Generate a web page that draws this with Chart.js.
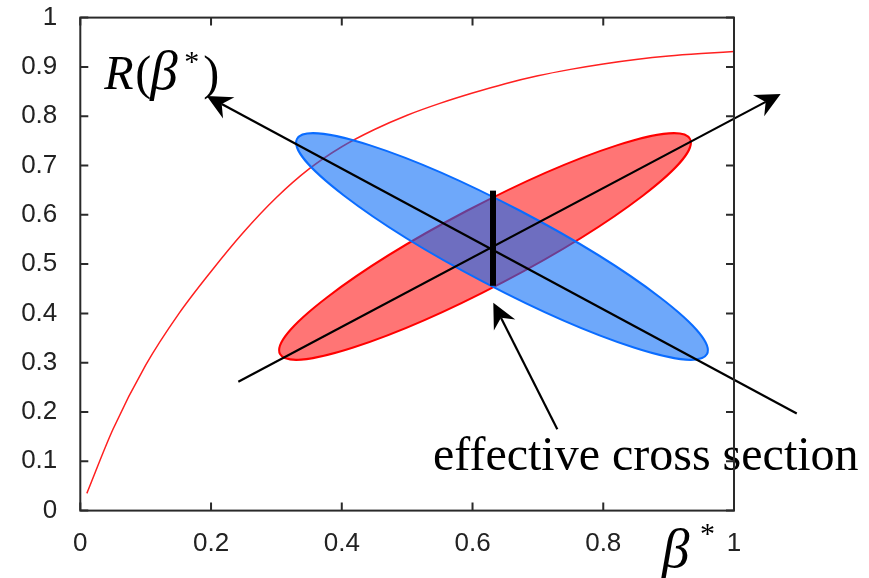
<!DOCTYPE html>
<html><head><meta charset="utf-8">
<script src="https://cdn.jsdelivr.net/npm/chart.js@4.4.0/dist/chart.umd.min.js"></script>
<style>html,body{margin:0;padding:0;background:#fff;}#wrap{width:869px;height:578px;}</style>
</head><body><div id="wrap"><canvas id="c" width="869" height="578"></canvas></div>
<script>
// ---- data ----
const betaValues = [0.01,0.05,0.1,0.15,0.2,0.25,0.3,0.35,0.4,0.45,0.5,0.55,0.6,0.65,0.7,0.75,0.8,0.85,0.9,0.95,1.0];
const rValues    = [0.035,0.165,0.295,0.398,0.485,0.565,0.635,0.693,0.738,0.773,0.802,0.826,0.847,0.866,0.882,0.895,0.906,0.915,0.922,0.927,0.931];
const xTickValues = [0,0.2,0.4,0.6,0.8,1];
const xTickLabels = ['0','0.2','0.4','0.6','0.8','1'];
const yTickValues = [0,0.1,0.2,0.3,0.4,0.5,0.6,0.7,0.8,0.9,1];
const yTickLabels = ['0','0.1','0.2','0.3','0.4','0.5','0.6','0.7','0.8','0.9','1'];

// annotation geometry in data coordinates
const blueEllipseAxis = [[0.3315,0.754],[0.9587,0.3177]];
const redEllipseAxis  = [[0.3055,0.3177],[0.9327,0.754]];
const arrowA = [[1.096,0.197],[0.1934,0.841]];
const arrowB = [[0.2417,0.2615],[1.0714,0.8452]];
const arrowC = [[0.7297,0.165],[0.6318,0.4218]];
const crossBar = [[0.6313,0.649],[0.6313,0.456]];
const labelRAnchor = [0.0368,0.8554];
const labelECSAnchor = [0.5395,0.0824];
const labelBetaAnchor = [0.8837,-0.1144];

const annot = {
  id:'annot',
  afterDatasetsDraw(chart){
    const {ctx, scales:{x,y}} = chart;
    const px=v=>x.getPixelForValue(v), py=v=>y.getPixelForValue(v);
    ctx.save();
    function ell(axis, b, fill, stroke){
      const x1=px(axis[0][0]), y1=py(axis[0][1]), x2=px(axis[1][0]), y2=py(axis[1][1]);
      const cx=(x1+x2)/2, cy=(y1+y2)/2, a=Math.hypot(x2-x1,y2-y1)/2, ang=Math.atan2(y2-y1,x2-x1);
      ctx.beginPath(); ctx.ellipse(cx,cy,a,b,ang,0,2*Math.PI);
      ctx.fillStyle=fill; ctx.fill();
      ctx.lineWidth=2; ctx.strokeStyle=stroke; ctx.stroke();
    }
    ell(redEllipseAxis, 40, 'rgba(255,0,0,0.54)', '#ff0000');
    ell(blueEllipseAxis, 40, 'rgba(5,105,246,0.58)', '#0a6cff');
    function arrow(seg, lw){
      const fx=px(seg[0][0]), fy=py(seg[0][1]), tx=px(seg[1][0]), ty=py(seg[1][1]);
      const ang=Math.atan2(ty-fy,tx-fx), ux=Math.cos(ang), uy=Math.sin(ang);
      const L=25, W=12, N=17;
      ctx.beginPath(); ctx.moveTo(fx,fy); ctx.lineTo(tx-ux*N,ty-uy*N);
      ctx.lineWidth=lw; ctx.strokeStyle='#000'; ctx.stroke();
      ctx.beginPath(); ctx.moveTo(tx,ty);
      ctx.lineTo(tx-ux*L-uy*W, ty-uy*L+ux*W);
      ctx.lineTo(tx-ux*N, ty-uy*N);
      ctx.lineTo(tx-ux*L+uy*W, ty-uy*L-ux*W);
      ctx.closePath(); ctx.fillStyle='#000'; ctx.fill();
    }
    arrow(arrowA,2.2); arrow(arrowB,2.2); arrow(arrowC,2.2);
    ctx.beginPath(); ctx.moveTo(px(crossBar[0][0]),py(crossBar[0][1])); ctx.lineTo(px(crossBar[1][0]),py(crossBar[1][1]));
    ctx.lineWidth=6; ctx.strokeStyle='#000'; ctx.stroke();

    // texts
    ctx.fillStyle='#000'; ctx.textBaseline='alphabetic'; ctx.textAlign='left';
    const rx=px(labelRAnchor[0]), ry=py(labelRAnchor[1]);
    ctx.font='italic 48px "Liberation Serif"'; ctx.fillText('R', rx, ry);
    ctx.font='48px "Liberation Serif"'; ctx.fillText('(', rx+31, ry);
    ctx.font='italic 55px "Liberation Serif"'; ctx.fillText('\u03B2', rx+46, ry);
    ctx.font='30px "Liberation Serif"'; ctx.fillText('*', rx+80, ry-18);
    ctx.font='48px "Liberation Serif"'; ctx.fillText(')', rx+99, ry);

    ctx.font='48px "Liberation Serif"';
    ctx.fillText('effective cross section', px(labelECSAnchor[0]), py(labelECSAnchor[1]));

    const bx=px(labelBetaAnchor[0]), by=py(labelBetaAnchor[1]);
    ctx.font='italic 55px "Liberation Serif"'; ctx.fillText('\u03B2', bx+4, by);
    ctx.font='30px "Liberation Serif"'; ctx.fillText('*', bx+42, by-24);
    ctx.restore();
  },
  afterDraw(chart){
    const {ctx, chartArea:a, scales:{x,y}} = chart;
    ctx.save();
    ctx.strokeStyle='#2a2a2a'; ctx.lineWidth=2;
    ctx.strokeRect(a.left,a.top,a.right-a.left,a.bottom-a.top);
    const tl=8;
    ctx.beginPath();
    xTickValues.forEach(v=>{const p=x.getPixelForValue(v);
      ctx.moveTo(p,a.bottom); ctx.lineTo(p,a.bottom-tl);
      ctx.moveTo(p,a.top); ctx.lineTo(p,a.top+tl);});
    yTickValues.forEach(v=>{const p=y.getPixelForValue(v);
      ctx.moveTo(a.left,p); ctx.lineTo(a.left+tl,p);
      ctx.moveTo(a.right,p); ctx.lineTo(a.right-tl,p);});
    ctx.stroke();
    ctx.restore();
  }
};

new Chart(document.getElementById('c'), {
  type:'scatter',
  data:{datasets:[{
    data: betaValues.map((b,i)=>({x:b,y:rValues[i]})),
    showLine:true, borderColor:'#ff2020', borderWidth:1.5, pointRadius:0,
    cubicInterpolationMode:'monotone', fill:false
  }]},
  options:{
    responsive:false, animation:false, devicePixelRatio:1,
    layout:{padding:{top:17.6,right:135,left:0,bottom:0}},
    plugins:{legend:{display:false}, tooltip:{enabled:false}},
    scales:{
      x:{type:'linear', min:0, max:1,
        grid:{display:false, drawTicks:false}, border:{display:false},
        afterBuildTicks:s=>{s.ticks=xTickValues.map(v=>({value:v}));},
        ticks:{callback:(v,i)=>xTickLabels[i], padding:18, maxRotation:0, autoSkip:false,
          font:{family:'"Liberation Sans"', size:26}, color:'#222'},
        afterFit:s=>{s.height=67.4; s.paddingLeft=0; s.paddingRight=0;}},
      y:{type:'linear', min:0, max:1,
        grid:{display:false, drawTicks:false}, border:{display:false},
        afterBuildTicks:s=>{s.ticks=yTickValues.map(v=>({value:v}));},
        ticks:{callback:(v,i)=>yTickLabels[i], padding:23, autoSkip:false,
          font:{family:'"Liberation Sans"', size:26}, color:'#222'},
        afterFit:s=>{s.width=80.3; s.paddingTop=0; s.paddingBottom=0;}}
    }
  },
  plugins:[annot]
});
</script></body></html>
